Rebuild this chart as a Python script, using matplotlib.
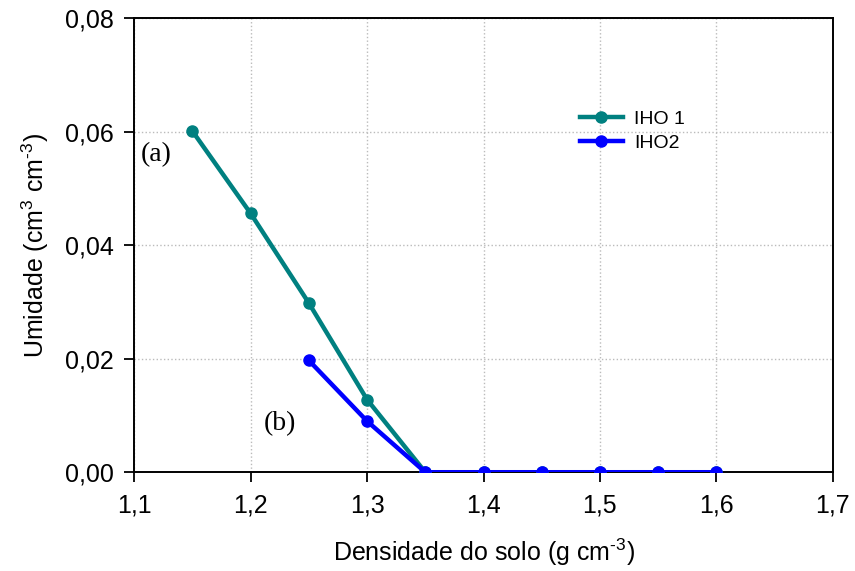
import matplotlib
matplotlib.use("Agg")
import matplotlib.pyplot as plt
from matplotlib.ticker import FuncFormatter

plt.rcParams['font.family'] = ['Liberation Sans', 'DejaVu Sans']
plt.rcParams['mathtext.fontset'] = 'custom'
plt.rcParams['mathtext.rm'] = 'Liberation Sans'
plt.rcParams['mathtext.it'] = 'Liberation Sans'

# data
dens1 = [1.15, 1.20, 1.25, 1.30, 1.35, 1.40, 1.45, 1.50, 1.55, 1.60]
iho1 = [0.0601, 0.0456, 0.0298, 0.0128, 0.0, 0.0, 0.0, 0.0, 0.0, 0.0]
dens2 = [1.25, 1.30, 1.35, 1.40, 1.45, 1.50, 1.55, 1.60]
iho2 = [0.0197, 0.0090, 0.0, 0.0, 0.0, 0.0, 0.0, 0.0]

fig = plt.figure(figsize=(8.55, 5.71), dpi=100)
ax = fig.add_axes([0.157, 0.173, 0.817, 0.795])

ax.plot(dens1, iho1, color='#008080', lw=3.2, marker='o', ms=8, label='IHO 1', zorder=3)
ax.plot(dens2, iho2, color='#0000FF', lw=3.2, marker='o', ms=8, label='IHO2', zorder=4)

ax.set_xlim(1.1, 1.7)
ax.set_ylim(0, 0.08)
ax.set_xticks([1.1, 1.2, 1.3, 1.4, 1.5, 1.6, 1.7])
ax.set_yticks([0, 0.02, 0.04, 0.06, 0.08])
ax.xaxis.set_major_formatter(FuncFormatter(lambda v, p: f"{v:.1f}".replace('.', ',')))
ax.yaxis.set_major_formatter(FuncFormatter(lambda v, p: f"{v:.2f}".replace('.', ',')))
ax.tick_params(labelsize=18, direction='out', length=7, width=1.3, pad=8)
ax.grid(True, linestyle=':', color='#bbbbbb', lw=1)
for s in ax.spines.values():
    s.set_linewidth(1.4)

ax.set_xlabel(r'Densidade do solo (g cm$^{\text{-3}}$)', fontsize=18, labelpad=14)
ax.set_ylabel(r'Umidade (cm$^{3}$ cm$^{\text{-3}}$)', fontsize=18, labelpad=10)

ax.text(1.106, 0.0548, '(a)', fontsize=20, family='Liberation Serif')
ax.text(1.211, 0.0075, '(b)', fontsize=20, family='Liberation Serif')

ax.legend(loc='upper left', bbox_to_anchor=(0.627, 0.815), frameon=False, fontsize=14,
          handlelength=2.2, labelspacing=0.35, borderaxespad=0, handletextpad=0.6)

fig.savefig('out.png', dpi=100)
